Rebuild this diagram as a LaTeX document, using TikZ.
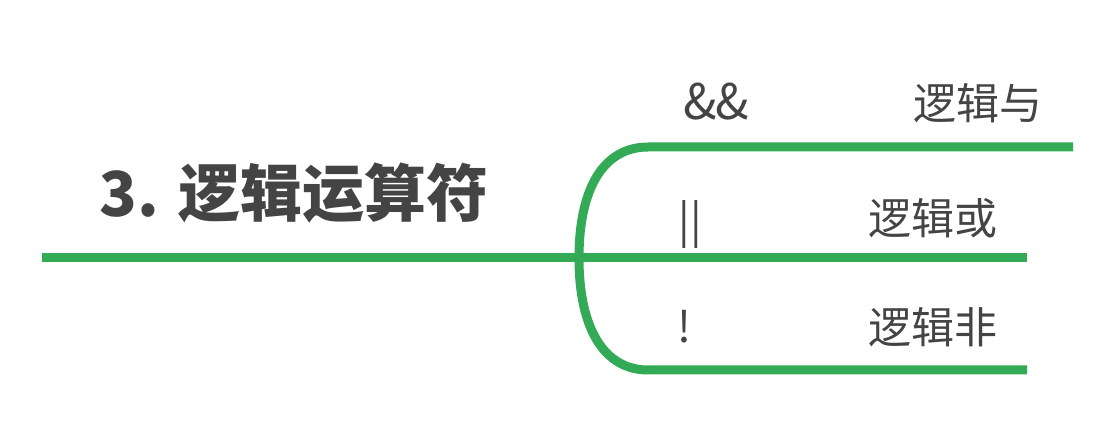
\documentclass[tikz,border=0pt]{standalone}
\usepackage{fontspec}
\setmainfont{Noto Sans CJK SC}
\definecolor{branchgreen}{RGB}{51,170,85}
\definecolor{textgray}{RGB}{68,68,68}
\begin{document}
\begin{tikzpicture}[x=1pt,y=1pt,
  branch/.style={draw=branchgreen,line width=9pt},
  lbl/.style={text=textgray,font=\fontsize{43}{46}\selectfont,inner sep=0pt},
  ttl/.style={text=textgray,font=\bfseries\fontsize{62}{66}\selectfont,inner sep=0pt}]
\useasboundingbox (0,0) rectangle (1114,436);
% coordinates (y = 436 - pixel y)
\coordinate (mainL) at (42,178);
\coordinate (fork) at (579,178);
\coordinate (midR) at (1027,178);
\coordinate (topS) at (648,289);
\coordinate (topR) at (1073,289);
\coordinate (botS) at (648,66);
\coordinate (botR) at (1027,66);
% lines
\draw[branch] (mainL) -- (midR);
\draw[branch] (fork) .. controls (579,250) and (605,289) .. (topS) -- (topR);
\draw[branch] (fork) .. controls (579,106) and (605,66) .. (botS) -- (botR);
% texts
\node[ttl] (title) at (294,243) {3. 逻辑运算符};
\node[lbl,font=\fontsize{49}{52}\selectfont] (and) at (716,334) {\&\kern-1pt\&};
\node[lbl] (andt) at (978,333) {逻辑与};
\node[lbl] (or) at (690,212) {||};
\node[lbl] (ort) at (933,218) {逻辑或};
\node[lbl] (not) at (684,109) {!};
\node[lbl] (nott) at (933,109) {逻辑非};
\end{tikzpicture}
\end{document}
